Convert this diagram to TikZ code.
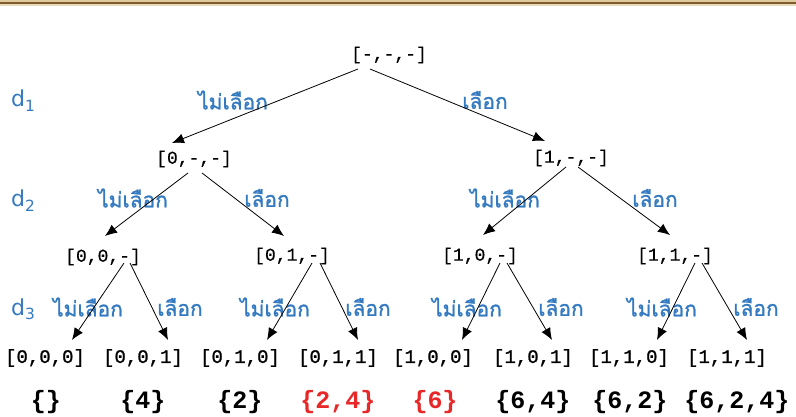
\documentclass[tikz,border=0pt]{standalone}
\usepackage{fontspec}
\setmonofont{Liberation Mono}
\newfontfamily\statefont[FakeBold=0.6]{Liberation Mono}
\newfontfamily\leaffont[FakeBold=1.2]{Liberation Mono}
\newfontfamily\thaifont[Script=Thai,FakeBold=1.2]{Loma}
\newfontfamily\dfont{DejaVu Sans}
\usetikzlibrary{arrows.meta}
\definecolor{choiceblue}{RGB}{52,122,192}
\definecolor{setred}{RGB}{232,40,40}
\definecolor{barlight}{RGB}{222,204,158}
\definecolor{bardark}{RGB}{128,92,48}

\tikzset{
  state/.style={font=\fontsize{18}{20}\selectfont\statefont, inner sep=0pt},
  leaf/.style={font=\fontsize{19}{21}\selectfont\leaffont, inner sep=0pt},
  subset/.style={font=\fontsize{25}{27}\selectfont\ttfamily\bfseries, inner sep=0pt},
  choice/.style={font=\fontsize{21}{23}\selectfont\thaifont, text=choiceblue, inner sep=0pt},
  depth/.style={font=\fontsize{22}{24}\selectfont\dfont, text=choiceblue, inner sep=0pt, anchor=base west},
  edge/.style={-{Latex[length=12pt,width=10pt]}, line width=0.8pt},
}

\begin{document}
\begin{tikzpicture}[x=1pt,y=-1pt]
    \useasboundingbox (0,0) rectangle (796,417);
    \fill[barlight] (0,0) rectangle (796,2.5);
    \fill[bardark] (0,2.5) rectangle (796,4.5);
    \fill[barlight!70] (0,4.5) rectangle (796,6);

    % states
    \node[state] (root) at (389,55) {[-,-,-]};
    \node[state] (n0) at (194,159) {[0,-,-]};
    \node[state] (n1) at (571,158) {[1,-,-]};
    \node[state] (n00) at (103,257) {[0,0,-]};
    \node[state] (n01) at (292,256) {[0,1,-]};
    \node[state] (n10) at (480,256) {[1,0,-]};
    \node[state] (n11) at (675,256) {[1,1,-]};

    \node[leaf] (l000) at (45,358) {[0,0,0]};
    \node[leaf] (l001) at (143,358) {[0,0,1]};
    \node[leaf] (l010) at (240,358) {[0,1,0]};
    \node[leaf] (l011) at (338,358) {[0,1,1]};
    \node[leaf] (l100) at (433,358) {[1,0,0]};
    \node[leaf] (l101) at (533,358) {[1,0,1]};
    \node[leaf] (l110) at (629,358) {[1,1,0]};
    \node[leaf] (l111) at (727,358) {[1,1,1]};

    % subsets
    \node[subset] (s000) at (46,402) {\{\}};
    \node[subset] (s001) at (143,402) {\{4\}};
    \node[subset] (s010) at (240,402) {\{2\}};
    \node[subset, text=setred] (s011) at (338,402) {\{2,4\}};
    \node[subset, text=setred] (s100) at (435,402) {\{6\}};
    \node[subset] (s101) at (533,402) {\{6,4\}};
    \node[subset] (s110) at (630,402) {\{6,2\}};
    \node[subset] (s111) at (737,402) {\{6,2,4\}};

    % depth
    \node[depth] (d1) at (11,107) {d\textsubscript{1}};
    \node[depth] (d2) at (11,207) {d\textsubscript{2}};
    \node[depth] (d3) at (11,315) {d\textsubscript{3}};

    % choices
    \node[choice] (c0) at (233,100) {ไม่เลือก};
    \node[choice] (c1) at (485,100) {เลือก};
    \node[choice] (c00) at (133,198) {ไม่เลือก};
    \node[choice] (c01) at (267,198) {เลือก};
    \node[choice] (c10) at (505,198) {ไม่เลือก};
    \node[choice] (c11) at (655,198) {เลือก};
    \node[choice] (c000) at (88,307) {ไม่เลือก};
    \node[choice] (c001) at (180,307) {เลือก};
    \node[choice] (c010) at (275,307) {ไม่เลือก};
    \node[choice] (c011) at (368,307) {เลือก};
    \node[choice] (c100) at (467,307) {ไม่เลือก};
    \node[choice] (c101) at (561,307) {เลือก};
    \node[choice] (c110) at (662,307) {ไม่เลือก};
    \node[choice] (c111) at (756,307) {เลือก};

    \draw[edge] ([shift={(-31,14)}]root.center) -- ([shift={(-22,-16)}]n0.center);
    \draw[edge] ([shift={(-19,14)}]root.center) -- ([shift={(-26,-17)}]n1.center);
    \draw[edge] ([shift={(-6,14)}]n0.center) -- ([shift={(2,-21)}]n00.center);
    \draw[edge] ([shift={(8,14)}]n0.center) -- ([shift={(-8,-20)}]n01.center);
    \draw[edge] ([shift={(-5,9)}]n1.center) -- ([shift={(3,-21)}]n10.center);
    \draw[edge] ([shift={(7,9)}]n1.center) -- ([shift={(-5,-21)}]n11.center);
    \draw[edge] ([shift={(21,6)}]n00.center) -- ([shift={(27,-18)}]l000.center);
    \draw[edge] ([shift={(27,6)}]n00.center) -- ([shift={(25,-18)}]l001.center);
    \draw[edge] ([shift={(20,7)}]n01.center) -- ([shift={(27,-18)}]l010.center);
    \draw[edge] ([shift={(28,7)}]n01.center) -- ([shift={(20,-18)}]l011.center);
    \draw[edge] ([shift={(20,7)}]n10.center) -- ([shift={(29,-18)}]l100.center);
    \draw[edge] ([shift={(27,7)}]n10.center) -- ([shift={(19,-18)}]l101.center);
    \draw[edge] ([shift={(20,7)}]n11.center) -- ([shift={(28,-18)}]l110.center);
    \draw[edge] ([shift={(27,7)}]n11.center) -- ([shift={(20,-18)}]l111.center);
\end{tikzpicture}
\end{document}
